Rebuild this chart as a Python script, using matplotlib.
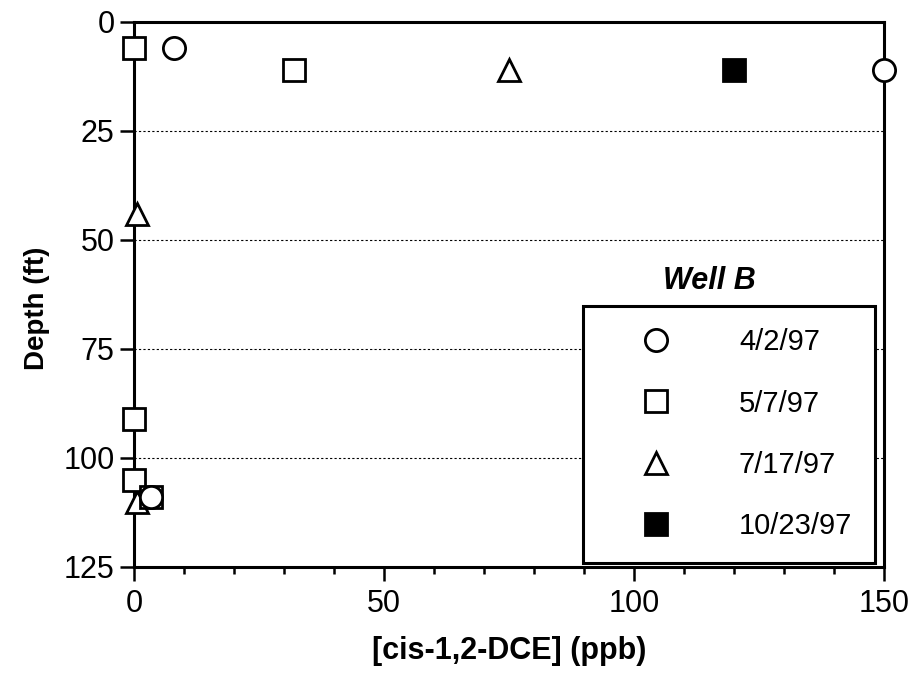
import matplotlib
matplotlib.use("Agg")
import matplotlib.pyplot as plt
from matplotlib.ticker import MultipleLocator

plt.rcParams['font.family'] = ['Liberation Sans', 'DejaVu Sans']

# Data (ppb, depth ft)
series_labels = ["4/2/97", "5/7/97", "7/17/97", "10/23/97"]
x_0402 = [8, 150, 3.3]
y_0402 = [6, 11, 109]
x_0507 = [0, 32, 0, 0, 3.3]
y_0507 = [6, 11, 91, 105, 109]
x_0717 = [75, 0.5, 0.5]
y_0717 = [11, 44, 110]
x_1023 = [120]
y_1023 = [11]

x_ticks = [0, 50, 100, 150]
y_ticks = [0, 25, 50, 75, 100, 125]

fig = plt.figure(figsize=(9.12, 6.79), dpi=100)
ax = fig.add_axes([0.147, 0.165, 0.822, 0.803])

ms = 16
mew = 2.0
common = dict(linestyle='none', markersize=ms, markeredgewidth=mew,
              markeredgecolor='black', clip_on=False)
h_tri, = ax.plot(x_0717, y_0717, marker='^', markerfacecolor='white',
                 label=series_labels[2], zorder=3, **common)
h_sq, = ax.plot(x_0507, y_0507, marker='s', markerfacecolor='white',
                label=series_labels[1], zorder=4, **common)
h_circ, = ax.plot(x_0402, y_0402, marker='o', markerfacecolor='white',
                  label=series_labels[0], zorder=5, **common)
h_fill, = ax.plot(x_1023, y_1023, marker='s', markerfacecolor='black',
                  label=series_labels[3], zorder=4, **common)

ax.set_xlim(0, 150)
ax.set_ylim(125, 0)
ax.set_xticks(x_ticks)
ax.set_yticks(y_ticks)
ax.xaxis.set_minor_locator(MultipleLocator(10))

for s in ax.spines.values():
    s.set_linewidth(2.2)
    s.set_color('black')

ax.tick_params(axis='both', which='major', direction='out', length=10,
               width=1.8, labelsize=22, colors='black', pad=4)
ax.tick_params(axis='x', which='minor', direction='out', length=5, width=1.8)
ax.tick_params(axis='x', which='major', pad=6)

ax.yaxis.grid(True, which='major', linestyle=(0, (2, 2)), linewidth=0.8,
              color='black')
ax.set_axisbelow(True)

ax.set_xlabel("[cis-1,2-DCE] (ppb)", fontsize=22, fontweight='bold', labelpad=12)
ax.set_ylabel("Depth (ft)", fontsize=20, fontweight='bold', labelpad=10)
ax.yaxis.set_label_coords(-0.112, 0.475)

leg = ax.legend(handles=[h_circ, h_sq, h_tri, h_fill],
                labels=series_labels,
                loc='lower right', bbox_to_anchor=(0.988, 0.008),
                borderaxespad=0, frameon=True, fancybox=False,
                fontsize=21, handlelength=3.5, handletextpad=1.08,
                labelspacing=1.14, borderpad=0.77, numpoints=1)
frame = leg.get_frame()
frame.set_edgecolor('black')
frame.set_linewidth(2.2)
frame.set_facecolor('white')
frame.set_alpha(1)

ax.text(0.768, 0.525, "Well B", transform=ax.transAxes, fontsize=22,
        fontweight='bold', fontstyle='italic', ha='center', va='center')

fig.savefig("out.png", dpi=100)
